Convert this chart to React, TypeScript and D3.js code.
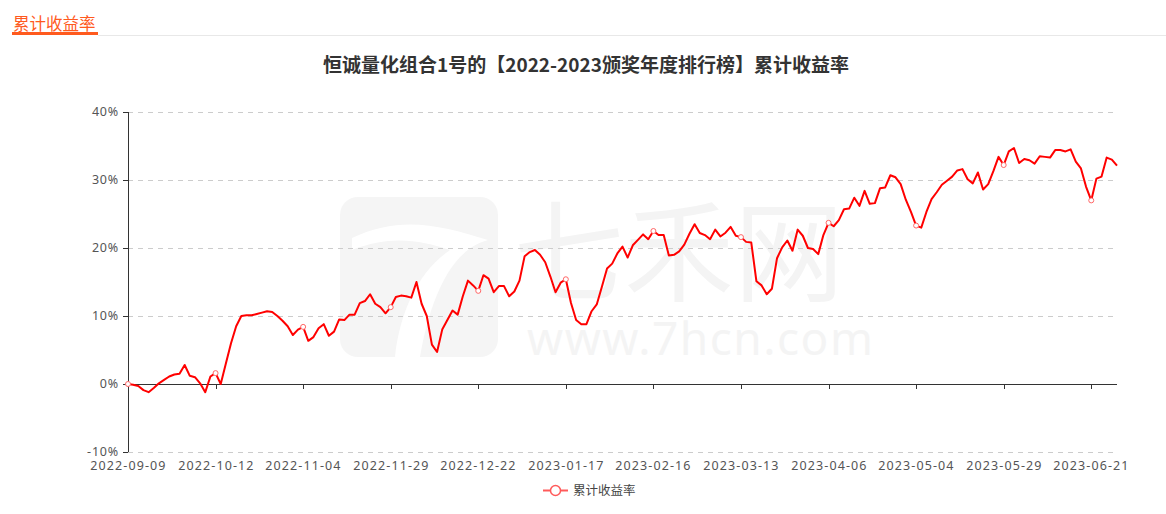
import React from "react";
import * as d3 from "d3";

// Tick labels shown on the category axis (one every 17 trading days)
const tickLabels = [
  "2022-09-09", "2022-10-12", "2022-11-04", "2022-11-29", "2022-12-22", "2023-01-17",
  "2023-02-16", "2023-03-13", "2023-04-06", "2023-05-04", "2023-05-29", "2023-06-21",
];
const labelInterval = 17;
const yTicks = [-10, 0, 10, 20, 30, 40];
const seriesName = "累计收益率";
const title = "恒诚量化组合1号的【2022-2023颁奖年度排行榜】累计收益率";

// Cumulative return (%) per trading day, 2022-09-09 .. 2023-06-30
const values = [
  0, -0.1, -0.3, -0.9, -1.2, -0.6, 0.1, 0.6, 1.1, 1.4,
  1.5, 2.8, 1.2, 1.0, 0.1, -1.2, 1.1, 1.6, 0.0, 3.0,
  6.0, 8.5, 10.0, 10.1, 10.1, 10.3, 10.5, 10.7, 10.6, 10.0,
  9.3, 8.5, 7.2, 8.0, 8.4, 6.35, 6.9, 8.2, 8.8, 7.1,
  7.7, 9.5, 9.4, 10.2, 10.2, 11.9, 12.2, 13.2, 11.8, 11.3,
  10.4, 11.3, 12.8, 13.0, 12.9, 12.7, 15.0, 11.8, 10.0, 5.8,
  4.7, 8.0, 9.4, 10.8, 10.2, 12.9, 15.2, 14.5, 13.7, 16.0,
  15.5, 13.5, 14.4, 14.4, 12.9, 13.6, 15.2, 18.8, 19.4, 19.7,
  19.0, 17.9, 15.8, 13.5, 14.9, 15.4, 11.9, 9.4, 8.8, 8.8,
  10.7, 11.7, 14.3, 17.0, 17.7, 19.2, 20.2, 18.6, 20.4, 21.2,
  22.0, 21.3, 22.5, 21.9, 21.9, 18.9, 19.0, 19.5, 20.5, 22.1,
  23.5, 22.2, 21.9, 21.3, 22.7, 21.7, 22.25, 23.1, 21.8, 21.6,
  20.9, 20.8, 15.1, 14.5, 13.2, 14.0, 18.5, 20.1, 21.1, 19.6,
  22.7, 21.8, 20.0, 19.85, 19.1, 21.9, 23.7, 23.2, 24.1, 25.7,
  25.8, 27.4, 26.2, 28.4, 26.5, 26.6, 28.8, 28.9, 30.7, 30.4,
  29.4, 27.1, 25.3, 23.3, 23.0, 25.3, 27.2, 28.2, 29.3, 29.9,
  30.5, 31.4, 31.6, 30.1, 29.5, 31.1, 28.6, 29.4, 31.3, 33.4,
  32.2, 34.2, 34.7, 32.5, 33.1, 32.9, 32.4, 33.5, 33.4, 33.3,
  34.4, 34.4, 34.2, 34.5, 32.7, 31.7, 29.0, 27.0, 30.2, 30.5,
  33.3, 33.0, 32.1,
];

const W = 1166;
const H = 514;
const left = 128;
const right = 1117;
const top = 112;
const bottom = 452;
const RED = "#ff0000";
const FONT = "'Noto Sans', 'Noto Sans CJK SC', sans-serif";
const CJK = "'Noto Sans CJK SC', sans-serif";

export default function App() {
  const x = d3.scaleLinear().domain([0, values.length - 1]).range([left, right]);
  const y = d3.scaleLinear().domain([-10, 40]).range([bottom, top]);
  const line = d3
    .line<number>()
    .x((_, i) => x(i))
    .y((d) => y(d))
    .curve(d3.curveLinear);
  const y0 = y(0);
  const markerIdx = tickLabels.map((_, k) => k * labelInterval);

  return (
    <svg
      width={W}
      height={H}
      style={{ position: "absolute", left: 0, top: 0, background: "#fff" }}
    >
      {/* header */}
      <text x={13} y={30} fontFamily={CJK} fontSize={16.5} fill="#ff5a1e">
        {seriesName}
      </text>
      <line x1={98} x2={W} y1={35.5} y2={35.5} stroke="#e8e8e8" strokeWidth={1} />
      <rect x={12} y={32} width={86} height={3} fill="#ff5a1e" />

      {/* watermark */}
      <g>
        <rect x={340} y={197} width={158} height={160} rx={18} fill="#f5f5f5" />
        <path d="M352 238 C 400 215, 440 225, 488 240 C 450 250, 430 300, 420 357 L 395 357 C 400 310, 420 270, 450 250 C 420 240, 390 235, 352 250 Z" fill="#ffffff" />
        <text x={514} y={293} fontFamily={CJK} fontSize={110} fill="#f4f4f4">
          七禾网
        </text>
        <text x={527} y={355} fontFamily={FONT} fontSize={46} fill="#f4f4f4" letterSpacing={1.5}>
          www.7hcn.com
        </text>
      </g>

      {/* title */}
      <text
        x={586}
        y={72}
        textAnchor="middle"
        fontFamily={CJK}
        fontWeight="bold"
        fontSize={19}
        fill="#333"
      >
        {title}
      </text>

      {/* grid */}
      {yTicks.map((t) =>
        t === 0 ? null : (
          <line
            key={t}
            x1={left}
            x2={right}
            y1={Math.round(y(t)) + 0.5}
            y2={Math.round(y(t)) + 0.5}
            stroke="#cccccc"
            strokeDasharray="5,5"
          />
        )
      )}

      {/* y axis */}
      <line x1={left + 0.5} x2={left + 0.5} y1={top} y2={bottom} stroke="#333" />
      {yTicks.map((t) => (
        <g key={t}>
          <line
            x1={left - 5}
            x2={left}
            y1={Math.round(y(t)) + 0.5}
            y2={Math.round(y(t)) + 0.5}
            stroke="#333"
          />
          <text
            x={119}
            y={y(t)}
            dy="0.35em"
            textAnchor="end"
            fontFamily={FONT}
            fontSize={12.5}
            letterSpacing={0.8}
            fill="#555"
          >
            {`${t}%`}
          </text>
        </g>
      ))}

      {/* x axis */}
      <line x1={left} x2={right} y1={Math.round(y0) + 0.5} y2={Math.round(y0) + 0.5} stroke="#333" />
      {tickLabels.map((lab, k) => {
        const xi = Math.round(x(k * labelInterval)) + 0.5;
        return (
          <g key={lab}>
            <line x1={xi} x2={xi} y1={y0} y2={y0 + 5} stroke="#333" />
            <text
              x={xi}
              y={466}
              dy="0.35em"
              textAnchor="middle"
              fontFamily={FONT}
              fontSize={12.5}
              letterSpacing={1.1}
              fill="#555"
            >
              {lab}
            </text>
          </g>
        );
      })}

      {/* series */}
      <path d={line(values) || ""} fill="none" stroke={RED} strokeWidth={2} strokeLinejoin="round" />
      {markerIdx.map((i) => (
        <circle key={i} cx={x(i)} cy={y(values[i])} r={2.5} fill="#fff" stroke="#ff6666" strokeWidth={1} />
      ))}

      {/* legend */}
      <line x1={543} x2={568} y1={490.5} y2={490.5} stroke="#ff5a5a" strokeWidth={2} />
      <circle cx={555.5} cy={490.5} r={5} fill="#fff" stroke="#ff5a5a" strokeWidth={1.5} />
      <text x={573} y={490.5} dy="0.35em" fontFamily={CJK} fontSize={12.5} fill="#444">
        {seriesName}
      </text>
    </svg>
  );
}
